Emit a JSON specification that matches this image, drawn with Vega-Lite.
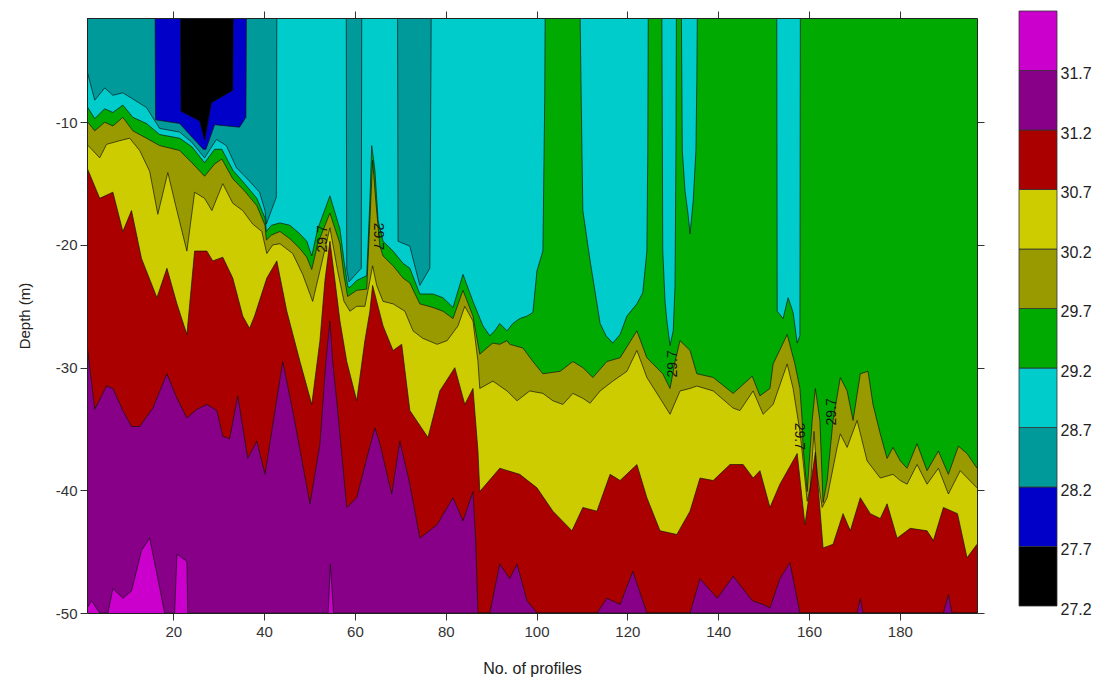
{
"$schema": "https://vega.github.io/schema/vega-lite/v6.json",
"padding": {"left": 17, "top": 10, "right": 5, "bottom": 5},
"background": "white",
"config": {"font": "Liberation Sans", "view": {"stroke": null},
  "locale": {"number": {"decimal": ".", "thousands": ",", "grouping": [3], "currency": ["$", ""], "minus": "-"}}},
"datasets": {
"iso": [
{"l":27.7,"x":1,"d":-1.5},{"l":27.7,"x":21.6,"d":-1.5},{"l":27.7,"x":21.7,"d":-9.1},{"l":27.7,"x":25.8,"d":-9.9},{"l":27.7,"x":26.9,"d":-11.5},{"l":27.7,"x":28.4,"d":-8.4},{"l":27.7,"x":33.1,"d":-7.4},{"l":27.7,"x":33.2,"d":-1.5},{"l":27.7,"x":197,"d":-1.5},
{"l":28.2,"x":1,"d":-1.5},{"l":28.2,"x":16.0,"d":-1.5},{"l":28.2,"x":16.1,"d":-9.8},{"l":28.2,"x":21.4,"d":-10.1},{"l":28.2,"x":23.6,"d":-11.0},{"l":28.2,"x":26.6,"d":-12.2},{"l":28.2,"x":27.2,"d":-12.2},{"l":28.2,"x":29.1,"d":-10.2},{"l":28.2,"x":34.6,"d":-10.4},{"l":28.2,"x":36.0,"d":-9.6},{"l":28.2,"x":36.1,"d":-1.5},{"l":28.2,"x":197,"d":-1.5},
{"l":28.7,"x":1,"d":-5.8},{"l":28.7,"x":2.7,"d":-8.2},{"l":28.7,"x":4.9,"d":-7.2},{"l":28.7,"x":6.7,"d":-7.8},{"l":28.7,"x":8.9,"d":-7.6},{"l":28.7,"x":11.1,"d":-8.1},{"l":28.7,"x":14.1,"d":-8.8},{"l":28.7,"x":17.0,"d":-10.5},{"l":28.7,"x":21.4,"d":-10.8},{"l":28.7,"x":24.0,"d":-11.6},{"l":28.7,"x":26.9,"d":-12.9},{"l":28.7,"x":29.5,"d":-11.4},{"l":28.7,"x":31.7,"d":-11.9},{"l":28.7,"x":33.9,"d":-13.7},{"l":28.7,"x":36.8,"d":-14.8},{"l":28.7,"x":39.0,"d":-15.7},{"l":28.7,"x":40.2,"d":-17.2},{"l":28.7,"x":40.5,"d":-18.3},{"l":28.7,"x":41.6,"d":-17.2},{"l":28.7,"x":42.7,"d":-16.1},{"l":28.7,"x":42.8,"d":-1.5},{"l":28.7,"x":58.1,"d":-1.5},{"l":28.7,"x":58.2,"d":-22.0},{"l":28.7,"x":58.7,"d":-23.0},{"l":28.7,"x":61.4,"d":-21.9},{"l":28.7,"x":61.5,"d":-1.5},{"l":28.7,"x":69.4,"d":-1.5},{"l":28.7,"x":69.5,"d":-19.7},{"l":28.7,"x":72.1,"d":-20.1},{"l":28.7,"x":74.3,"d":-23.3},{"l":28.7,"x":76.5,"d":-21.9},{"l":28.7,"x":76.8,"d":-1.5},{"l":28.7,"x":197,"d":-1.5},
{"l":29.2,"x":1,"d":-8.7},{"l":29.2,"x":2.7,"d":-9.7},{"l":29.2,"x":4.9,"d":-8.9},{"l":29.2,"x":6.7,"d":-9.2},{"l":29.2,"x":8.9,"d":-8.6},{"l":29.2,"x":11.1,"d":-9.6},{"l":29.2,"x":14.1,"d":-10.1},{"l":29.2,"x":17.0,"d":-11.0},{"l":29.2,"x":21.4,"d":-11.3},{"l":29.2,"x":24.1,"d":-12.0},{"l":29.2,"x":26.9,"d":-13.3},{"l":29.2,"x":29.1,"d":-12.2},{"l":29.2,"x":30.7,"d":-12.2},{"l":29.2,"x":33.1,"d":-13.9},{"l":29.2,"x":35.7,"d":-15.0},{"l":29.2,"x":38.4,"d":-16.2},{"l":29.2,"x":40.2,"d":-17.8},{"l":29.2,"x":40.5,"d":-18.9},{"l":29.2,"x":41.6,"d":-18.4},{"l":29.2,"x":43.5,"d":-18.2},{"l":29.2,"x":45.7,"d":-18.4},{"l":29.2,"x":47.9,"d":-19.1},{"l":29.2,"x":49.4,"d":-19.7},{"l":29.2,"x":50.5,"d":-20.9},{"l":29.2,"x":51.8,"d":-18.7},{"l":29.2,"x":54.5,"d":-16.0},{"l":29.2,"x":56.7,"d":-18.7},{"l":29.2,"x":57.6,"d":-21.3},{"l":29.2,"x":58.4,"d":-23.3},{"l":29.2,"x":58.7,"d":-23.5},{"l":29.2,"x":59.3,"d":-23.3},{"l":29.2,"x":60.4,"d":-22.9},{"l":29.2,"x":62.6,"d":-22.5},{"l":29.2,"x":63.3,"d":-16.4},{"l":29.2,"x":63.7,"d":-11.9},{"l":29.2,"x":64.4,"d":-13.9},{"l":29.2,"x":65.1,"d":-18.0},{"l":29.2,"x":66.2,"d":-19.7},{"l":29.2,"x":68.4,"d":-20.5},{"l":29.2,"x":70.6,"d":-21.5},{"l":29.2,"x":72.1,"d":-21.9},{"l":29.2,"x":74.3,"d":-24.0},{"l":29.2,"x":77.2,"d":-24.0},{"l":29.2,"x":79.4,"d":-24.3},{"l":29.2,"x":81.6,"d":-25.1},{"l":29.2,"x":83.8,"d":-22.4},{"l":29.2,"x":86.0,"d":-24.6},{"l":29.2,"x":88.2,"d":-26.6},{"l":29.2,"x":89.7,"d":-27.4},{"l":29.2,"x":90.8,"d":-27.0},{"l":29.2,"x":91.9,"d":-26.4},{"l":29.2,"x":93.5,"d":-27.0},{"l":29.2,"x":94.8,"d":-26.4},{"l":29.2,"x":96.3,"d":-26.0},{"l":29.2,"x":97.9,"d":-25.8},{"l":29.2,"x":99.2,"d":-25.5},{"l":29.2,"x":100.1,"d":-22.1},{"l":29.2,"x":101.4,"d":-20.5},{"l":29.2,"x":101.8,"d":-8.2},{"l":29.2,"x":101.9,"d":-1.5},{"l":29.2,"x":109.6,"d":-1.5},{"l":29.2,"x":110.0,"d":-12.3},{"l":29.2,"x":110.2,"d":-17.2},{"l":29.2,"x":111.8,"d":-21.3},{"l":29.2,"x":114.0,"d":-26.4},{"l":29.2,"x":115.3,"d":-27.4},{"l":29.2,"x":116.8,"d":-28.0},{"l":29.2,"x":118.4,"d":-27.3},{"l":29.2,"x":119.9,"d":-25.8},{"l":29.2,"x":122.1,"d":-24.8},{"l":29.2,"x":123.4,"d":-23.9},{"l":29.2,"x":124.3,"d":-20.5},{"l":29.2,"x":124.5,"d":-12.3},{"l":29.2,"x":124.6,"d":-1.5},{"l":29.2,"x":127.6,"d":-1.5},{"l":29.2,"x":127.8,"d":-20.5},{"l":29.2,"x":128.3,"d":-24.6},{"l":29.2,"x":128.7,"d":-26.2},{"l":29.2,"x":129.4,"d":-28.2},{"l":29.2,"x":130.1,"d":-27.0},{"l":29.2,"x":130.5,"d":-23.3},{"l":29.2,"x":130.7,"d":-12.3},{"l":29.2,"x":130.8,"d":-1.5},{"l":29.2,"x":131.9,"d":-1.5},{"l":29.2,"x":132.1,"d":-12.3},{"l":29.2,"x":132.7,"d":-15.6},{"l":29.2,"x":133.4,"d":-17.6},{"l":29.2,"x":133.8,"d":-19.1},{"l":29.2,"x":134.5,"d":-16.4},{"l":29.2,"x":135.1,"d":-12.3},{"l":29.2,"x":135.3,"d":-6.6},{"l":29.2,"x":135.4,"d":-1.5},{"l":29.2,"x":152.9,"d":-1.5},{"l":29.2,"x":153.0,"d":-25.4},{"l":29.2,"x":154.3,"d":-26.0},{"l":29.2,"x":155.4,"d":-24.3},{"l":29.2,"x":156.5,"d":-25.5},{"l":29.2,"x":157.4,"d":-28.0},{"l":29.2,"x":158.0,"d":-27.4},{"l":29.2,"x":158.1,"d":-1.5},{"l":29.2,"x":197,"d":-1.5},
{"l":29.7,"x":1,"d":-9.9},{"l":29.7,"x":2.7,"d":-10.7},{"l":29.7,"x":4.9,"d":-10.0},{"l":29.7,"x":6.7,"d":-10.3},{"l":29.7,"x":8.9,"d":-9.6},{"l":29.7,"x":11.1,"d":-10.7},{"l":29.7,"x":14.1,"d":-11.3},{"l":29.7,"x":17.0,"d":-11.9},{"l":29.7,"x":21.4,"d":-12.3},{"l":29.7,"x":24.1,"d":-13.3},{"l":29.7,"x":26.9,"d":-14.4},{"l":29.7,"x":29.1,"d":-13.4},{"l":29.7,"x":30.7,"d":-13.0},{"l":29.7,"x":33.1,"d":-14.6},{"l":29.7,"x":35.7,"d":-15.6},{"l":29.7,"x":38.4,"d":-16.8},{"l":29.7,"x":40.2,"d":-18.4},{"l":29.7,"x":40.5,"d":-19.6},{"l":29.7,"x":41.6,"d":-19.2},{"l":29.7,"x":43.5,"d":-18.9},{"l":29.7,"x":45.7,"d":-19.5},{"l":29.7,"x":47.9,"d":-20.3},{"l":29.7,"x":49.4,"d":-21.0},{"l":29.7,"x":50.5,"d":-22.0},{"l":29.7,"x":51.8,"d":-19.9},{"l":29.7,"x":54.5,"d":-17.4},{"l":29.7,"x":56.7,"d":-19.9},{"l":29.7,"x":57.6,"d":-22.5},{"l":29.7,"x":58.4,"d":-24.2},{"l":29.7,"x":60.4,"d":-23.7},{"l":29.7,"x":62.6,"d":-23.6},{"l":29.7,"x":63.3,"d":-18.0},{"l":29.7,"x":63.9,"d":-13.1},{"l":29.7,"x":64.6,"d":-16.4},{"l":29.7,"x":65.5,"d":-20.1},{"l":29.7,"x":66.2,"d":-20.9},{"l":29.7,"x":68.4,"d":-21.7},{"l":29.7,"x":70.6,"d":-22.7},{"l":29.7,"x":72.1,"d":-23.1},{"l":29.7,"x":74.3,"d":-24.8},{"l":29.7,"x":77.2,"d":-25.1},{"l":29.7,"x":79.4,"d":-25.4},{"l":29.7,"x":81.6,"d":-26.0},{"l":29.7,"x":83.8,"d":-23.7},{"l":29.7,"x":86.0,"d":-25.8},{"l":29.7,"x":87.5,"d":-28.9},{"l":29.7,"x":89.7,"d":-28.2},{"l":29.7,"x":90.4,"d":-28.0},{"l":29.7,"x":91.9,"d":-28.1},{"l":29.7,"x":93.5,"d":-27.8},{"l":29.7,"x":94.1,"d":-28.1},{"l":29.7,"x":97.0,"d":-28.4},{"l":29.7,"x":99.2,"d":-29.5},{"l":29.7,"x":101.4,"d":-30.5},{"l":29.7,"x":105.2,"d":-30.3},{"l":29.7,"x":108.0,"d":-29.5},{"l":29.7,"x":110.2,"d":-30.0},{"l":29.7,"x":112.4,"d":-30.8},{"l":29.7,"x":115.5,"d":-29.5},{"l":29.7,"x":118.4,"d":-29.2},{"l":29.7,"x":122.1,"d":-27.0},{"l":29.7,"x":124.3,"d":-29.2},{"l":29.7,"x":127.8,"d":-30.5},{"l":29.7,"x":129.4,"d":-31.7},{"l":29.7,"x":130.5,"d":-29.5},{"l":29.7,"x":131.6,"d":-27.8},{"l":29.7,"x":133.8,"d":-28.6},{"l":29.7,"x":135.3,"d":-30.5},{"l":29.7,"x":138.9,"d":-30.8},{"l":29.7,"x":143.3,"d":-32.1},{"l":29.7,"x":147.5,"d":-30.7},{"l":29.7,"x":149.2,"d":-32.3},{"l":29.7,"x":151.4,"d":-31.7},{"l":29.7,"x":152.1,"d":-29.7},{"l":29.7,"x":155.2,"d":-27.3},{"l":29.7,"x":156.9,"d":-29.7},{"l":29.7,"x":158.0,"d":-31.7},{"l":29.7,"x":158.5,"d":-34.3},{"l":29.7,"x":158.7,"d":-36.5},{"l":29.7,"x":159.6,"d":-40.1},{"l":29.7,"x":160.7,"d":-34.3},{"l":29.7,"x":161.4,"d":-31.7},{"l":29.7,"x":162.4,"d":-34.3},{"l":29.7,"x":163.1,"d":-41.0},{"l":29.7,"x":164.0,"d":-39.2},{"l":29.7,"x":165.3,"d":-34.3},{"l":29.7,"x":166.9,"d":-30.8},{"l":29.7,"x":168.4,"d":-31.9},{"l":29.7,"x":169.7,"d":-34.3},{"l":29.7,"x":171.3,"d":-30.5},{"l":29.7,"x":173.0,"d":-30.3},{"l":29.7,"x":174.1,"d":-33.0},{"l":29.7,"x":175.7,"d":-35.4},{"l":29.7,"x":177.2,"d":-37.4},{"l":29.7,"x":178.5,"d":-36.5},{"l":29.7,"x":180.1,"d":-37.6},{"l":29.7,"x":181.6,"d":-38.2},{"l":29.7,"x":183.8,"d":-36.2},{"l":29.7,"x":186.0,"d":-38.4},{"l":29.7,"x":188.5,"d":-36.8},{"l":29.7,"x":190.7,"d":-38.7},{"l":29.7,"x":192.9,"d":-36.4},{"l":29.7,"x":194.8,"d":-37.0},{"l":29.7,"x":197,"d":-38.2},
{"l":30.2,"x":1,"d":-11.8},{"l":30.2,"x":3.8,"d":-12.9},{"l":30.2,"x":5.3,"d":-11.8},{"l":30.2,"x":8.2,"d":-11.5},{"l":30.2,"x":10.4,"d":-11.3},{"l":30.2,"x":12.6,"d":-12.3},{"l":30.2,"x":14.8,"d":-14.0},{"l":30.2,"x":16.6,"d":-17.5},{"l":30.2,"x":18.8,"d":-14.1},{"l":30.2,"x":20.8,"d":-17.2},{"l":30.2,"x":23.0,"d":-20.5},{"l":30.2,"x":24.7,"d":-15.7},{"l":30.2,"x":26.9,"d":-16.2},{"l":30.2,"x":28.5,"d":-17.2},{"l":30.2,"x":30.9,"d":-15.0},{"l":30.2,"x":33.1,"d":-16.6},{"l":30.2,"x":35.3,"d":-17.2},{"l":30.2,"x":37.5,"d":-18.3},{"l":30.2,"x":39.5,"d":-18.9},{"l":30.2,"x":40.6,"d":-20.7},{"l":30.2,"x":41.9,"d":-20.0},{"l":30.2,"x":43.5,"d":-19.9},{"l":30.2,"x":46.3,"d":-20.7},{"l":30.2,"x":48.5,"d":-22.4},{"l":30.2,"x":50.7,"d":-24.6},{"l":30.2,"x":52.3,"d":-22.1},{"l":30.2,"x":54.5,"d":-18.6},{"l":30.2,"x":56.2,"d":-22.1},{"l":30.2,"x":57.6,"d":-24.6},{"l":30.2,"x":58.9,"d":-25.4},{"l":30.2,"x":60.4,"d":-25.0},{"l":30.2,"x":62.2,"d":-25.0},{"l":30.2,"x":63.3,"d":-22.9},{"l":30.2,"x":63.9,"d":-21.7},{"l":30.2,"x":64.8,"d":-23.3},{"l":30.2,"x":66.2,"d":-24.6},{"l":30.2,"x":68.4,"d":-24.8},{"l":30.2,"x":71.0,"d":-25.4},{"l":30.2,"x":72.8,"d":-27.0},{"l":30.2,"x":74.9,"d":-27.6},{"l":30.2,"x":78.1,"d":-28.1},{"l":30.2,"x":80.3,"d":-27.8},{"l":30.2,"x":82.7,"d":-26.6},{"l":30.2,"x":84.2,"d":-25.0},{"l":30.2,"x":86.0,"d":-26.2},{"l":30.2,"x":87.1,"d":-29.5},{"l":30.2,"x":87.5,"d":-31.7},{"l":30.2,"x":90.4,"d":-31.1},{"l":30.2,"x":93.5,"d":-31.9},{"l":30.2,"x":95.7,"d":-32.7},{"l":30.2,"x":98.5,"d":-31.9},{"l":30.2,"x":101.4,"d":-32.1},{"l":30.2,"x":103.6,"d":-32.7},{"l":30.2,"x":105.8,"d":-33.0},{"l":30.2,"x":108.0,"d":-32.1},{"l":30.2,"x":110.2,"d":-32.5},{"l":30.2,"x":111.8,"d":-32.9},{"l":30.2,"x":114.0,"d":-31.9},{"l":30.2,"x":116.8,"d":-31.1},{"l":30.2,"x":119.9,"d":-30.3},{"l":30.2,"x":122.1,"d":-28.6},{"l":30.2,"x":124.3,"d":-30.8},{"l":30.2,"x":127.2,"d":-32.5},{"l":30.2,"x":129.4,"d":-33.8},{"l":30.2,"x":131.6,"d":-31.9},{"l":30.2,"x":133.8,"d":-31.7},{"l":30.2,"x":135.3,"d":-31.5},{"l":30.2,"x":138.9,"d":-31.9},{"l":30.2,"x":143.3,"d":-33.3},{"l":30.2,"x":144.8,"d":-33.5},{"l":30.2,"x":147.7,"d":-31.9},{"l":30.2,"x":149.9,"d":-33.8},{"l":30.2,"x":152.1,"d":-33.0},{"l":30.2,"x":155.2,"d":-29.7},{"l":30.2,"x":156.5,"d":-31.7},{"l":30.2,"x":158.0,"d":-35.2},{"l":30.2,"x":158.7,"d":-37.6},{"l":30.2,"x":159.6,"d":-40.9},{"l":30.2,"x":160.3,"d":-39.8},{"l":30.2,"x":161.1,"d":-35.2},{"l":30.2,"x":161.8,"d":-38.7},{"l":30.2,"x":162.9,"d":-41.4},{"l":30.2,"x":164.0,"d":-40.6},{"l":30.2,"x":166.2,"d":-36.5},{"l":30.2,"x":166.9,"d":-35.4},{"l":30.2,"x":168.4,"d":-36.5},{"l":30.2,"x":170.6,"d":-34.3},{"l":30.2,"x":172.8,"d":-37.6},{"l":30.2,"x":175.7,"d":-39.0},{"l":30.2,"x":178.5,"d":-38.7},{"l":30.2,"x":180.1,"d":-39.2},{"l":30.2,"x":181.6,"d":-39.5},{"l":30.2,"x":183.8,"d":-37.9},{"l":30.2,"x":186.0,"d":-39.5},{"l":30.2,"x":188.5,"d":-38.2},{"l":30.2,"x":190.7,"d":-40.3},{"l":30.2,"x":193.3,"d":-38.4},{"l":30.2,"x":197,"d":-39.8},
{"l":30.7,"x":1,"d":-13.7},{"l":30.7,"x":3.8,"d":-16.2},{"l":30.7,"x":6.7,"d":-15.7},{"l":30.7,"x":8.9,"d":-18.9},{"l":30.7,"x":10.8,"d":-17.2},{"l":30.7,"x":13.0,"d":-21.1},{"l":30.7,"x":16.4,"d":-24.3},{"l":30.7,"x":18.6,"d":-21.9},{"l":30.7,"x":20.8,"d":-24.8},{"l":30.7,"x":23.0,"d":-27.3},{"l":30.7,"x":24.7,"d":-20.5},{"l":30.7,"x":27.4,"d":-20.5},{"l":30.7,"x":28.7,"d":-21.3},{"l":30.7,"x":30.9,"d":-21.0},{"l":30.7,"x":33.1,"d":-22.7},{"l":30.7,"x":35.3,"d":-25.8},{"l":30.7,"x":36.8,"d":-26.8},{"l":30.7,"x":37.9,"d":-25.8},{"l":30.7,"x":40.6,"d":-22.7},{"l":30.7,"x":42.8,"d":-21.3},{"l":30.7,"x":45.0,"d":-25.4},{"l":30.7,"x":47.9,"d":-29.5},{"l":30.7,"x":50.5,"d":-33.0},{"l":30.7,"x":52.3,"d":-27.8},{"l":30.7,"x":53.4,"d":-22.9},{"l":30.7,"x":54.5,"d":-19.7},{"l":30.7,"x":55.6,"d":-22.9},{"l":30.7,"x":56.7,"d":-26.2},{"l":30.7,"x":58.2,"d":-29.5},{"l":30.7,"x":60.4,"d":-32.7},{"l":30.7,"x":62.2,"d":-27.8},{"l":30.7,"x":63.3,"d":-25.4},{"l":30.7,"x":63.9,"d":-23.3},{"l":30.7,"x":64.8,"d":-24.6},{"l":30.7,"x":66.2,"d":-26.6},{"l":30.7,"x":68.4,"d":-28.6},{"l":30.7,"x":70.3,"d":-28.1},{"l":30.7,"x":72.1,"d":-33.5},{"l":30.7,"x":76.1,"d":-35.7},{"l":30.7,"x":78.7,"d":-31.9},{"l":30.7,"x":82.0,"d":-30.0},{"l":30.7,"x":84.2,"d":-33.0},{"l":30.7,"x":86.0,"d":-31.7},{"l":30.7,"x":87.1,"d":-36.8},{"l":30.7,"x":87.5,"d":-40.1},{"l":30.7,"x":91.9,"d":-38.2},{"l":30.7,"x":96.3,"d":-38.7},{"l":30.7,"x":100.1,"d":-39.8},{"l":30.7,"x":103.6,"d":-41.7},{"l":30.7,"x":107.8,"d":-43.3},{"l":30.7,"x":110.2,"d":-41.4},{"l":30.7,"x":113.3,"d":-41.7},{"l":30.7,"x":116.2,"d":-38.7},{"l":30.7,"x":118.4,"d":-39.2},{"l":30.7,"x":122.1,"d":-37.9},{"l":30.7,"x":124.3,"d":-40.6},{"l":30.7,"x":127.2,"d":-43.3},{"l":30.7,"x":130.9,"d":-43.6},{"l":30.7,"x":133.8,"d":-41.7},{"l":30.7,"x":136.0,"d":-39.0},{"l":30.7,"x":138.9,"d":-39.2},{"l":30.7,"x":142.6,"d":-37.9},{"l":30.7,"x":145.5,"d":-37.9},{"l":30.7,"x":147.7,"d":-39.0},{"l":30.7,"x":149.2,"d":-38.4},{"l":30.7,"x":151.4,"d":-41.4},{"l":30.7,"x":153.6,"d":-39.5},{"l":30.7,"x":157.4,"d":-37.0},{"l":30.7,"x":159.1,"d":-42.8},{"l":30.7,"x":161.4,"d":-36.9},{"l":30.7,"x":163.1,"d":-44.7},{"l":30.7,"x":165.3,"d":-44.4},{"l":30.7,"x":167.5,"d":-41.9},{"l":30.7,"x":169.1,"d":-43.3},{"l":30.7,"x":171.3,"d":-40.6},{"l":30.7,"x":173.5,"d":-41.9},{"l":30.7,"x":175.7,"d":-42.3},{"l":30.7,"x":177.2,"d":-41.1},{"l":30.7,"x":179.4,"d":-43.9},{"l":30.7,"x":182.3,"d":-43.1},{"l":30.7,"x":186.0,"d":-43.3},{"l":30.7,"x":187.4,"d":-44.1},{"l":30.7,"x":189.6,"d":-41.4},{"l":30.7,"x":192.7,"d":-41.9},{"l":30.7,"x":194.8,"d":-45.5},{"l":30.7,"x":197,"d":-44.4},
{"l":31.2,"x":1,"d":-28.1},{"l":31.2,"x":2.7,"d":-33.4},{"l":31.2,"x":5.3,"d":-31.5},{"l":31.2,"x":6.7,"d":-31.7},{"l":31.2,"x":8.9,"d":-33.5},{"l":31.2,"x":10.8,"d":-34.8},{"l":31.2,"x":12.6,"d":-34.8},{"l":31.2,"x":15.5,"d":-33.3},{"l":31.2,"x":18.6,"d":-30.5},{"l":31.2,"x":20.8,"d":-32.5},{"l":31.2,"x":23.0,"d":-34.1},{"l":31.2,"x":25.2,"d":-33.4},{"l":31.2,"x":27.4,"d":-33.0},{"l":31.2,"x":29.6,"d":-33.5},{"l":31.2,"x":30.9,"d":-35.6},{"l":31.2,"x":32.4,"d":-35.8},{"l":31.2,"x":34.2,"d":-32.3},{"l":31.2,"x":36.4,"d":-37.4},{"l":31.2,"x":38.4,"d":-36.0},{"l":31.2,"x":40.2,"d":-38.7},{"l":31.2,"x":42.4,"d":-33.5},{"l":31.2,"x":44.1,"d":-29.5},{"l":31.2,"x":46.3,"d":-33.5},{"l":31.2,"x":50.1,"d":-41.1},{"l":31.2,"x":52.3,"d":-36.2},{"l":31.2,"x":53.6,"d":-29.5},{"l":31.2,"x":54.5,"d":-26.2},{"l":31.2,"x":55.1,"d":-29.5},{"l":31.2,"x":56.0,"d":-32.7},{"l":31.2,"x":58.2,"d":-41.4},{"l":31.2,"x":60.4,"d":-40.6},{"l":31.2,"x":62.6,"d":-37.4},{"l":31.2,"x":64.4,"d":-34.9},{"l":31.2,"x":65.5,"d":-36.2},{"l":31.2,"x":68.1,"d":-40.3},{"l":31.2,"x":69.9,"d":-36.0},{"l":31.2,"x":72.1,"d":-39.5},{"l":31.2,"x":74.3,"d":-43.9},{"l":31.2,"x":78.1,"d":-42.8},{"l":31.2,"x":81.6,"d":-40.6},{"l":31.2,"x":83.8,"d":-42.5},{"l":31.2,"x":86.0,"d":-40.1},{"l":31.2,"x":86.6,"d":-44.1},{"l":31.2,"x":87.1,"d":-50},{"l":31.2,"x":89.7,"d":-50},{"l":31.2,"x":91.9,"d":-46.0},{"l":31.2,"x":94.1,"d":-47.2},{"l":31.2,"x":95.7,"d":-46.0},{"l":31.2,"x":97.9,"d":-49.0},{"l":31.2,"x":100.1,"d":-50},{"l":31.2,"x":113.3,"d":-50},{"l":31.2,"x":115.5,"d":-48.8},{"l":31.2,"x":118.4,"d":-49.3},{"l":31.2,"x":121.2,"d":-46.6},{"l":31.2,"x":124.3,"d":-50},{"l":31.2,"x":133.8,"d":-50},{"l":31.2,"x":136.0,"d":-47.2},{"l":31.2,"x":139.8,"d":-48.8},{"l":31.2,"x":143.3,"d":-47.0},{"l":31.2,"x":147.5,"d":-49.0},{"l":31.2,"x":149.9,"d":-49.3},{"l":31.2,"x":151.4,"d":-49.6},{"l":31.2,"x":153.6,"d":-47.2},{"l":31.2,"x":155.8,"d":-45.9},{"l":31.2,"x":158.0,"d":-50},{"l":31.2,"x":170.6,"d":-50},{"l":31.2,"x":171.3,"d":-48.8},{"l":31.2,"x":171.9,"d":-50},{"l":31.2,"x":189.6,"d":-50},{"l":31.2,"x":190.7,"d":-48.5},{"l":31.2,"x":191.5,"d":-50},{"l":31.2,"x":197,"d":-50},
{"l":31.7,"x":1,"d":-49.6},{"l":31.7,"x":2.0,"d":-49.0},{"l":31.7,"x":3.8,"d":-50},{"l":31.7,"x":5.6,"d":-50},{"l":31.7,"x":6.7,"d":-48.0},{"l":31.7,"x":8.9,"d":-48.8},{"l":31.7,"x":10.8,"d":-48.2},{"l":31.7,"x":13.0,"d":-44.9},{"l":31.7,"x":14.8,"d":-43.9},{"l":31.7,"x":16.6,"d":-47.2},{"l":31.7,"x":18.1,"d":-50},{"l":31.7,"x":20.3,"d":-50},{"l":31.7,"x":20.8,"d":-45.2},{"l":31.7,"x":23.0,"d":-45.8},{"l":31.7,"x":23.2,"d":-50},{"l":31.7,"x":54.1,"d":-50},{"l":31.7,"x":54.6,"d":-46.0},{"l":31.7,"x":55.3,"d":-50},{"l":31.7,"x":197,"d":-50}
]
},
"hconcat": [
{
  "width": 890, "height": 595,
  "view": {"fill": "#000000", "stroke": null},
  "data": {"name": "iso"},
  "encoding": {
    "x": {"field": "x", "type": "quantitative", "scale": {"domain": [1, 197], "nice": false, "zero": false}, "axis": null},
    "y": {"field": "d", "type": "quantitative", "scale": {"domain": [-50, -1.5], "nice": false, "zero": false}, "axis": null}
  },
  "layer": [
    {"transform": [{"filter": "datum.l == 27.7"}], "mark": {"type": "area", "color": "#0000c8", "clip": true},
     "encoding": {"y2": {"datum": -50},
       "x": {"field": "x", "type": "quantitative", "scale": {"domain": [1, 197], "nice": false, "zero": false},
         "axis": {"orient": "bottom", "values": [20,40,60,80,100,120,140,160,180], "title": "No. of profiles", "titleFontSize": 16, "titleFontWeight": "normal", "titleColor": "#222", "titlePadding": 21, "labelFontSize": 15, "labelColor": "#333", "labelPadding": 4, "tickSize": 7, "tickColor": "#333", "domain": true, "domainColor": "#222", "grid": false, "zindex": 1}},
       "y": {"field": "d", "type": "quantitative", "scale": {"domain": [-50, -1.5], "nice": false, "zero": false},
         "axis": {"orient": "left", "values": [-10,-20,-30,-40,-50], "title": "Depth (m)", "titleFontSize": 15, "titleFontWeight": "normal", "titleColor": "#222", "titlePadding": 23, "labelFontSize": 15, "labelColor": "#333", "labelPadding": 3, "tickSize": 7, "tickColor": "#333", "domain": true, "domainColor": "#222", "grid": false, "zindex": 1}}}},
    {"transform": [{"filter": "datum.l == 28.2"}], "mark": {"type": "area", "color": "#009a9a", "clip": true}, "encoding": {"y2": {"datum": -50}}},
    {"transform": [{"filter": "datum.l == 28.7"}], "mark": {"type": "area", "color": "#00cccc", "clip": true}, "encoding": {"y2": {"datum": -50}}},
    {"transform": [{"filter": "datum.l == 29.2"}], "mark": {"type": "area", "color": "#00aa00", "clip": true}, "encoding": {"y2": {"datum": -50}}},
    {"transform": [{"filter": "datum.l == 29.7"}], "mark": {"type": "area", "color": "#999900", "clip": true}, "encoding": {"y2": {"datum": -50}}},
    {"transform": [{"filter": "datum.l == 30.2"}], "mark": {"type": "area", "color": "#cccc00", "clip": true}, "encoding": {"y2": {"datum": -50}}},
    {"transform": [{"filter": "datum.l == 30.7"}], "mark": {"type": "area", "color": "#aa0000", "clip": true}, "encoding": {"y2": {"datum": -50}}},
    {"transform": [{"filter": "datum.l == 31.2"}], "mark": {"type": "area", "color": "#880088", "clip": true}, "encoding": {"y2": {"datum": -50}}},
    {"transform": [{"filter": "datum.l == 31.7"}], "mark": {"type": "area", "color": "#cc00cc", "clip": true}, "encoding": {"y2": {"datum": -50}}},
    {"mark": {"type": "line", "color": "#111111", "strokeWidth": 0.8, "opacity": 0.85, "clip": true},
     "encoding": {"detail": {"field": "l", "type": "nominal"},
       "x": {"field": "x", "type": "quantitative", "scale": {"domain": [1, 197], "nice": false, "zero": false},
         "axis": {"orient": "top", "values": [20,40,60,80,100,120,140,160,180], "labels": false, "title": null, "tickSize": 7, "tickColor": "#333", "domain": true, "domainColor": "#222", "grid": false, "zindex": 1}},
       "y": {"field": "d", "type": "quantitative", "scale": {"domain": [-50, -1.5], "nice": false, "zero": false},
         "axis": {"orient": "right", "values": [-10,-20,-30,-40,-50], "labels": false, "title": null, "tickSize": 7, "tickColor": "#333", "domain": true, "domainColor": "#222", "grid": false, "zindex": 1}}}},
    {"data": {"values": [{"x": 52.9, "d": -19.5, "t": "29.7"}, {"x": 130.1, "d": -29.7, "t": "29.7"}, {"x": 165.1, "d": -33.6, "t": "29.7"}]},
     "mark": {"type": "text", "angle": 270, "fontSize": 14, "color": "#111111"}, "encoding": {"text": {"field": "t"}}},
    {"data": {"values": [{"x": 65.0, "d": -19.3, "t": "29.7"}, {"x": 157.8, "d": -35.6, "t": "29.7"}]},
     "mark": {"type": "text", "angle": 90, "fontSize": 14, "color": "#111111"}, "encoding": {"text": {"field": "t"}}}
  ],
  "resolve": {"axis": {"x": "independent", "y": "independent"}}
},
{
  "width": 38, "height": 595,
  "data": {"values": [{"lo": 27.2, "hi": 27.7}, {"lo": 27.7, "hi": 28.2}, {"lo": 28.2, "hi": 28.7}, {"lo": 28.7, "hi": 29.2}, {"lo": 29.2, "hi": 29.7}, {"lo": 29.7, "hi": 30.2}, {"lo": 30.2, "hi": 30.7}, {"lo": 30.7, "hi": 31.2}, {"lo": 31.2, "hi": 31.7}, {"lo": 31.7, "hi": 32.2}]},
  "mark": {"type": "rect", "stroke": "#333333", "strokeWidth": 0.8, "clip": false},
  "encoding": {
    "y": {"field": "lo", "type": "quantitative", "scale": {"domain": [27.1412, 32.1412], "nice": false, "zero": false},
      "axis": {"orient": "right", "values": [27.2,27.7,28.2,28.7,29.2,29.7,30.2,30.7,31.2,31.7], "format": ".1f", "title": null, "domain": false, "ticks": false, "grid": false, "labelFontSize": 16, "labelColor": "#222", "labelPadding": 3, "labelOffset": 3}},
    "y2": {"field": "hi"},
    "x": {"datum": 0, "type": "quantitative", "scale": {"domain": [0, 1]}, "axis": null},
    "x2": {"datum": 1},
    "color": {"field": "lo", "type": "ordinal", "legend": null,
      "scale": {"domain": [27.2,27.7,28.2,28.7,29.2,29.7,30.2,30.7,31.2,31.7], "range": ["#000000","#0000c8","#009a9a","#00cccc","#00aa00","#999900","#cccc00","#aa0000","#880088","#cc00cc"]}}
  }
}
],
"spacing": 33
}
